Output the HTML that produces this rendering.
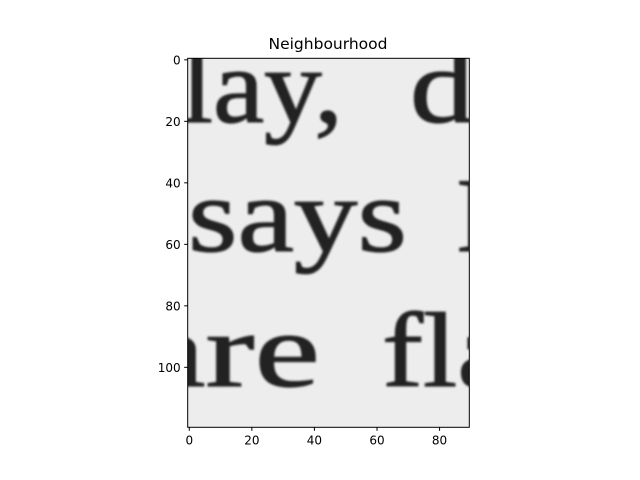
<!DOCTYPE html>
<html><head><meta charset="utf-8"><style>
body{margin:0;background:#fff;}
svg{display:block;font-family:"DejaVu Sans","Liberation Sans",sans-serif;}
</style></head><body>
<svg width="640" height="480">
<defs>
<clipPath id="ax"><rect x="187.7" y="58.3" width="281.6" height="369"/></clipPath>
<filter id="bl"><feGaussianBlur stdDeviation="1"/></filter>
</defs>
<text x="328" y="49" font-size="15.5" text-anchor="middle">Neighbourhood</text>
<g clip-path="url(#ax)">
<rect x="187.7" y="58.3" width="281.6" height="369" fill="#ededed"/>
<g filter="url(#bl)" fill="#222" stroke="#222" stroke-width="1.2" font-family="'Liberation Serif',serif" font-size="106" lengthAdjust="spacingAndGlyphs">
<text x="181" y="122" textLength="162" lengthAdjust="spacingAndGlyphs">lay,</text>
<text x="410" y="122" textLength="64" lengthAdjust="spacingAndGlyphs">d</text>
<text x="188" y="251" textLength="219" lengthAdjust="spacingAndGlyphs">says</text>
<text x="456" y="251">I</text>
<text x="140" y="386" textLength="180" lengthAdjust="spacingAndGlyphs">are</text>
<text x="382" y="386" textLength="130" lengthAdjust="spacingAndGlyphs">fla</text>
</g>
</g>
<rect x="187.7" y="58.3" width="281.6" height="369" fill="none" stroke="#000" stroke-width="1"/>
<g id="xt"></g>
<g id="yt"></g>
</svg>
<script>
const xTicks=[0,20,40,60,80];
const yTicks=[0,20,40,60,80,100];
const nx=90, ny=120;
const L=187.7,T=58.3,W=281.6,H=369;
const xs=v=>L+(v+0.5)*W/nx, ys=v=>T+(v+0.5)*H/ny;
const NS="http://www.w3.org/2000/svg";
const xg=document.getElementById('xt'), yg=document.getElementById('yt');
xTicks.forEach(v=>{
  const l=document.createElementNS(NS,'line');
  l.setAttribute('x1',xs(v));l.setAttribute('x2',xs(v));l.setAttribute('y1',T+H);l.setAttribute('y2',T+H+3.5);l.setAttribute('stroke','#000');
  
  
  xg.appendChild(l);
  const t=document.createElementNS(NS,'text');
  t.setAttribute('x',xs(v));t.setAttribute('y',T+H+17);t.setAttribute('font-size','12');t.setAttribute('text-anchor','middle');
  t.textContent=v;
  
  
  xg.appendChild(t);
});
yTicks.forEach(v=>{
  const l=document.createElementNS(NS,'line');
  l.setAttribute('x1',L-3.5);l.setAttribute('x2',L);l.setAttribute('y1',ys(v));l.setAttribute('y2',ys(v));l.setAttribute('stroke','#000');
  
  
  yg.appendChild(l);
  const t=document.createElementNS(NS,'text');
  t.setAttribute('x',L-7);t.setAttribute('y',ys(v)+4.5);t.setAttribute('font-size','12');t.setAttribute('text-anchor','end');
  t.textContent=v;
  
  
  yg.appendChild(t);
});
</script>
</body></html>
